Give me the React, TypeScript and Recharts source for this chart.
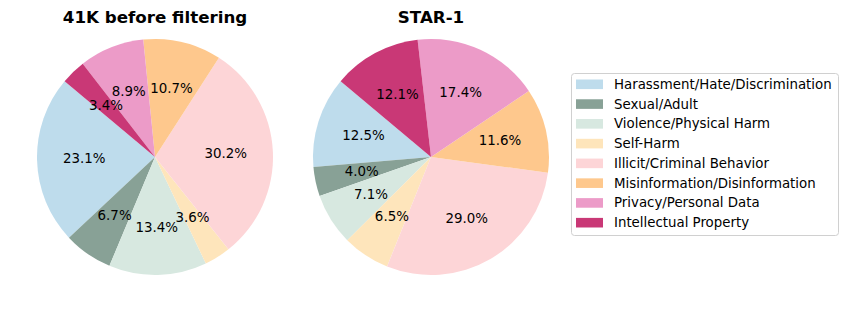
import { PieChart, Pie, Cell } from 'recharts';

const categories = [
  'Harassment/Hate/Discrimination',
  'Sexual/Adult',
  'Violence/Physical Harm',
  'Self-Harm',
  'Illicit/Criminal Behavior',
  'Misinformation/Disinformation',
  'Privacy/Personal Data',
  'Intellectual Property',
];

const colors = ['#bedcec', '#88a196', '#d7e8e0', '#fee5bb', '#fdd5d7', '#fec88d', '#ec9bc8', '#c93876'];

const before = [23.1, 6.7, 13.4, 3.6, 30.2, 10.7, 8.9, 3.4];
const star1 = [12.5, 4.0, 7.1, 6.5, 29.0, 11.6, 17.4, 12.1];

const titles = ['41K before filtering', 'STAR-1'];

const FONT = '"DejaVu Sans", Verdana, sans-serif';
const RAD = Math.PI / 180;

const toRows = (vals: number[]) => categories.map((name, i) => ({ name, value: vals[i] }));

const renderLabel = (props: any) => {
  const { cx, cy, midAngle, outerRadius, value } = props;
  const r = outerRadius * 0.6;
  const x = cx + r * Math.cos(-midAngle * RAD);
  const y = cy + r * Math.sin(-midAngle * RAD);
  return (
    <text x={x} y={y} textAnchor="middle" dominantBaseline="central" fill="#000" fontSize={13.4} fontFamily={FONT}>
      {`${value.toFixed(1)}%`}
    </text>
  );
};

export default function App() {
  const pies = [
    { data: toRows(before), cx: 155 },
    { data: toRows(star1), cx: 431 },
  ];
  return (
    <div style={{ position: 'fixed', left: 0, top: 0, width: 847, height: 312, background: '#fff' }}>
      <PieChart width={847} height={312} margin={{ top: 0, right: 0, bottom: 0, left: 0 }}>
        {pies.map((p, k) => (
          <Pie
            key={k}
            data={p.data}
            dataKey="value"
            cx={p.cx}
            cy={157}
            outerRadius={118}
            startAngle={140}
            endAngle={500}
            stroke="none"
            labelLine={false}
            label={renderLabel}
            isAnimationActive={false}
          >
            {p.data.map((d, i) => (
              <Cell key={`cell-${i}`} fill={colors[i]} />
            ))}
          </Pie>
        ))}
      </PieChart>
      <svg width={847} height={312} style={{ position: 'absolute', left: 0, top: 0, pointerEvents: 'none' }}>
        {titles.map((t, k) => (
          <text
            key={t}
            x={pies[k].cx}
            y={16.5}
            textAnchor="middle"
            dominantBaseline="central"
            fontSize={16.7}
            fontWeight="bold"
            fontFamily={FONT}
            fill="#000"
          >
            {t}
          </text>
        ))}
        <rect x={571.5} y={73.5} width={267} height={162} rx={3} fill="#fff" stroke="#d0d0d0" />
        {categories.map((c, i) => {
          const y = 84.3 + i * 19.77;
          return (
            <g key={c}>
              <rect x={576} y={y - 4.8} width={27} height={9.6} fill={colors[i]} />
              <text x={614} y={y} dominantBaseline="central" fontSize={13.35} fontFamily={FONT} fill="#000">
                {c}
              </text>
            </g>
          );
        })}
      </svg>
    </div>
  );
}
